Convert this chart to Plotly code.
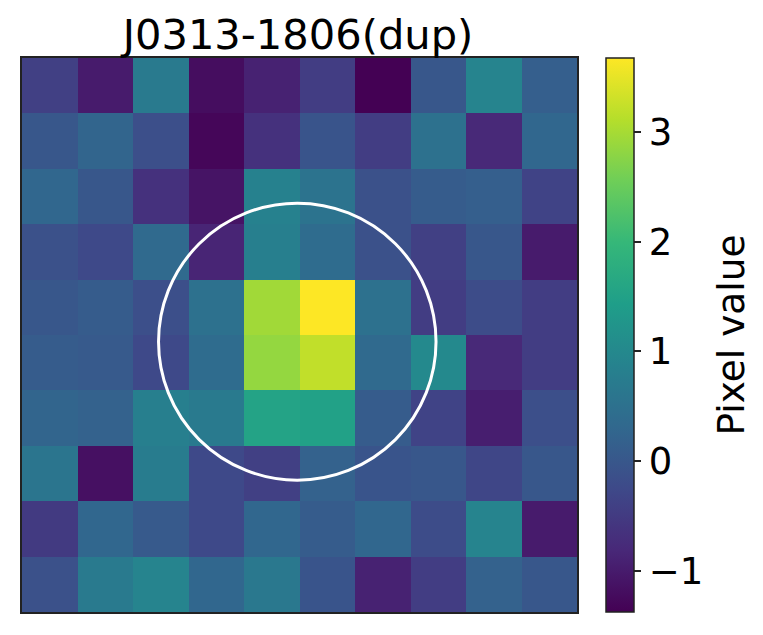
import plotly.graph_objects as go

title = "J0313-1806(dup)"
colorbar_label = "Pixel value"
tick_values = [-1, 0, 1, 2, 3]
tick_labels = ["−1", "0", "1", "2", "3"]
zmin, zmax = -1.37, 3.67
row0 = [-0.4, -1.0, 0.7, -1.2, -0.9, -0.45, -1.37, 0.0, 0.9, 0.15]
row1 = [0.0, 0.25, -0.15, -1.3, -0.65, -0.05, -0.45, 0.5, -0.8, 0.3]
row2 = [0.3, 0.0, -0.65, -1.1, 0.85, 0.55, -0.1, 0.1, 0.15, -0.35]
row3 = [-0.1, -0.25, 0.35, -0.85, 0.8, 0.4, -0.1, -0.4, 0.0, -1.0]
row4 = [0.0, 0.1, -0.15, 0.5, 2.95, 3.67, 0.5, -0.45, -0.2, -0.45]
row5 = [0.1, 0.05, -0.25, 0.4, 2.85, 3.2, 0.35, 1.0, -0.8, -0.45]
row6 = [0.25, 0.2, 0.8, 0.7, 1.55, 1.5, 0.1, -0.35, -0.95, -0.15]
row7 = [0.6, -1.15, 0.75, -0.25, -0.4, 0.2, -0.05, 0.0, -0.3, 0.0]
row8 = [-0.5, 0.3, 0.05, -0.25, 0.3, 0.1, 0.3, -0.2, 0.9, -1.0]
row9 = [-0.1, 0.7, 0.9, 0.3, 0.65, -0.05, -0.9, -0.45, 0.2, 0.0]
z = [row0, row1, row2, row3, row4, row5, row6, row7, row8, row9]
circle_x, circle_y, circle_r = 4.46, 4.62, 2.5

W, H = 763, 635
font = "DejaVu Sans"
fig = go.Figure(go.Heatmap(
    z=z, colorscale="Viridis", zmin=zmin, zmax=zmax,
    colorbar=dict(
        x=606 / W, xanchor="left", xref="paper",
        y=1 - 612 / H, yanchor="bottom", yref="paper",
        len=554 / H, lenmode="fraction", thickness=28, thicknessmode="pixels",
        tickvals=tick_values, ticktext=tick_labels,
        ticks="outside", ticklen=7, tickwidth=1.5, tickcolor="#222222",
        tickfont=dict(family=font, size=37, color="black"),
        outlinewidth=1.5, outlinecolor="#222222", xpad=0, ypad=0,
    ),
))
fig.add_shape(type="circle", xref="x", yref="y",
              x0=circle_x - circle_r, x1=circle_x + circle_r,
              y0=circle_y - circle_r, y1=circle_y + circle_r,
              line=dict(color="white", width=3))
fig.add_annotation(text=colorbar_label, xref="paper", yref="paper",
                   x=730 / W, y=1 - 335.5 / H, xanchor="center", yanchor="middle",
                   textangle=-90, showarrow=False,
                   font=dict(family=font, size=37.5, color="black"))
axis = dict(showticklabels=False, ticks="", showgrid=False, zeroline=False,
            showline=True, mirror=True, linecolor="#222222", linewidth=1.5)
fig.update_xaxes(range=[-0.5, 9.5], domain=[22 / W, 577 / W], **axis)
fig.update_yaxes(range=[9.5, -0.5], domain=[1 - 612 / H, 1 - 58 / H], **axis)
fig.update_layout(
    width=W, height=H, autosize=False, margin=dict(l=0, r=0, t=0, b=0),
    paper_bgcolor="white", plot_bgcolor="white",
    font=dict(family=font, color="black"),
    title=dict(text=title, x=298 / W, xanchor="center", xref="paper",
               y=1 - 34 / H, yanchor="middle", yref="paper",
               font=dict(family=font, size=41.6, color="black")),
)
fig.write_html("out.html", config={"displayModeBar": False},
               post_script="document.body.style.margin='0';")
